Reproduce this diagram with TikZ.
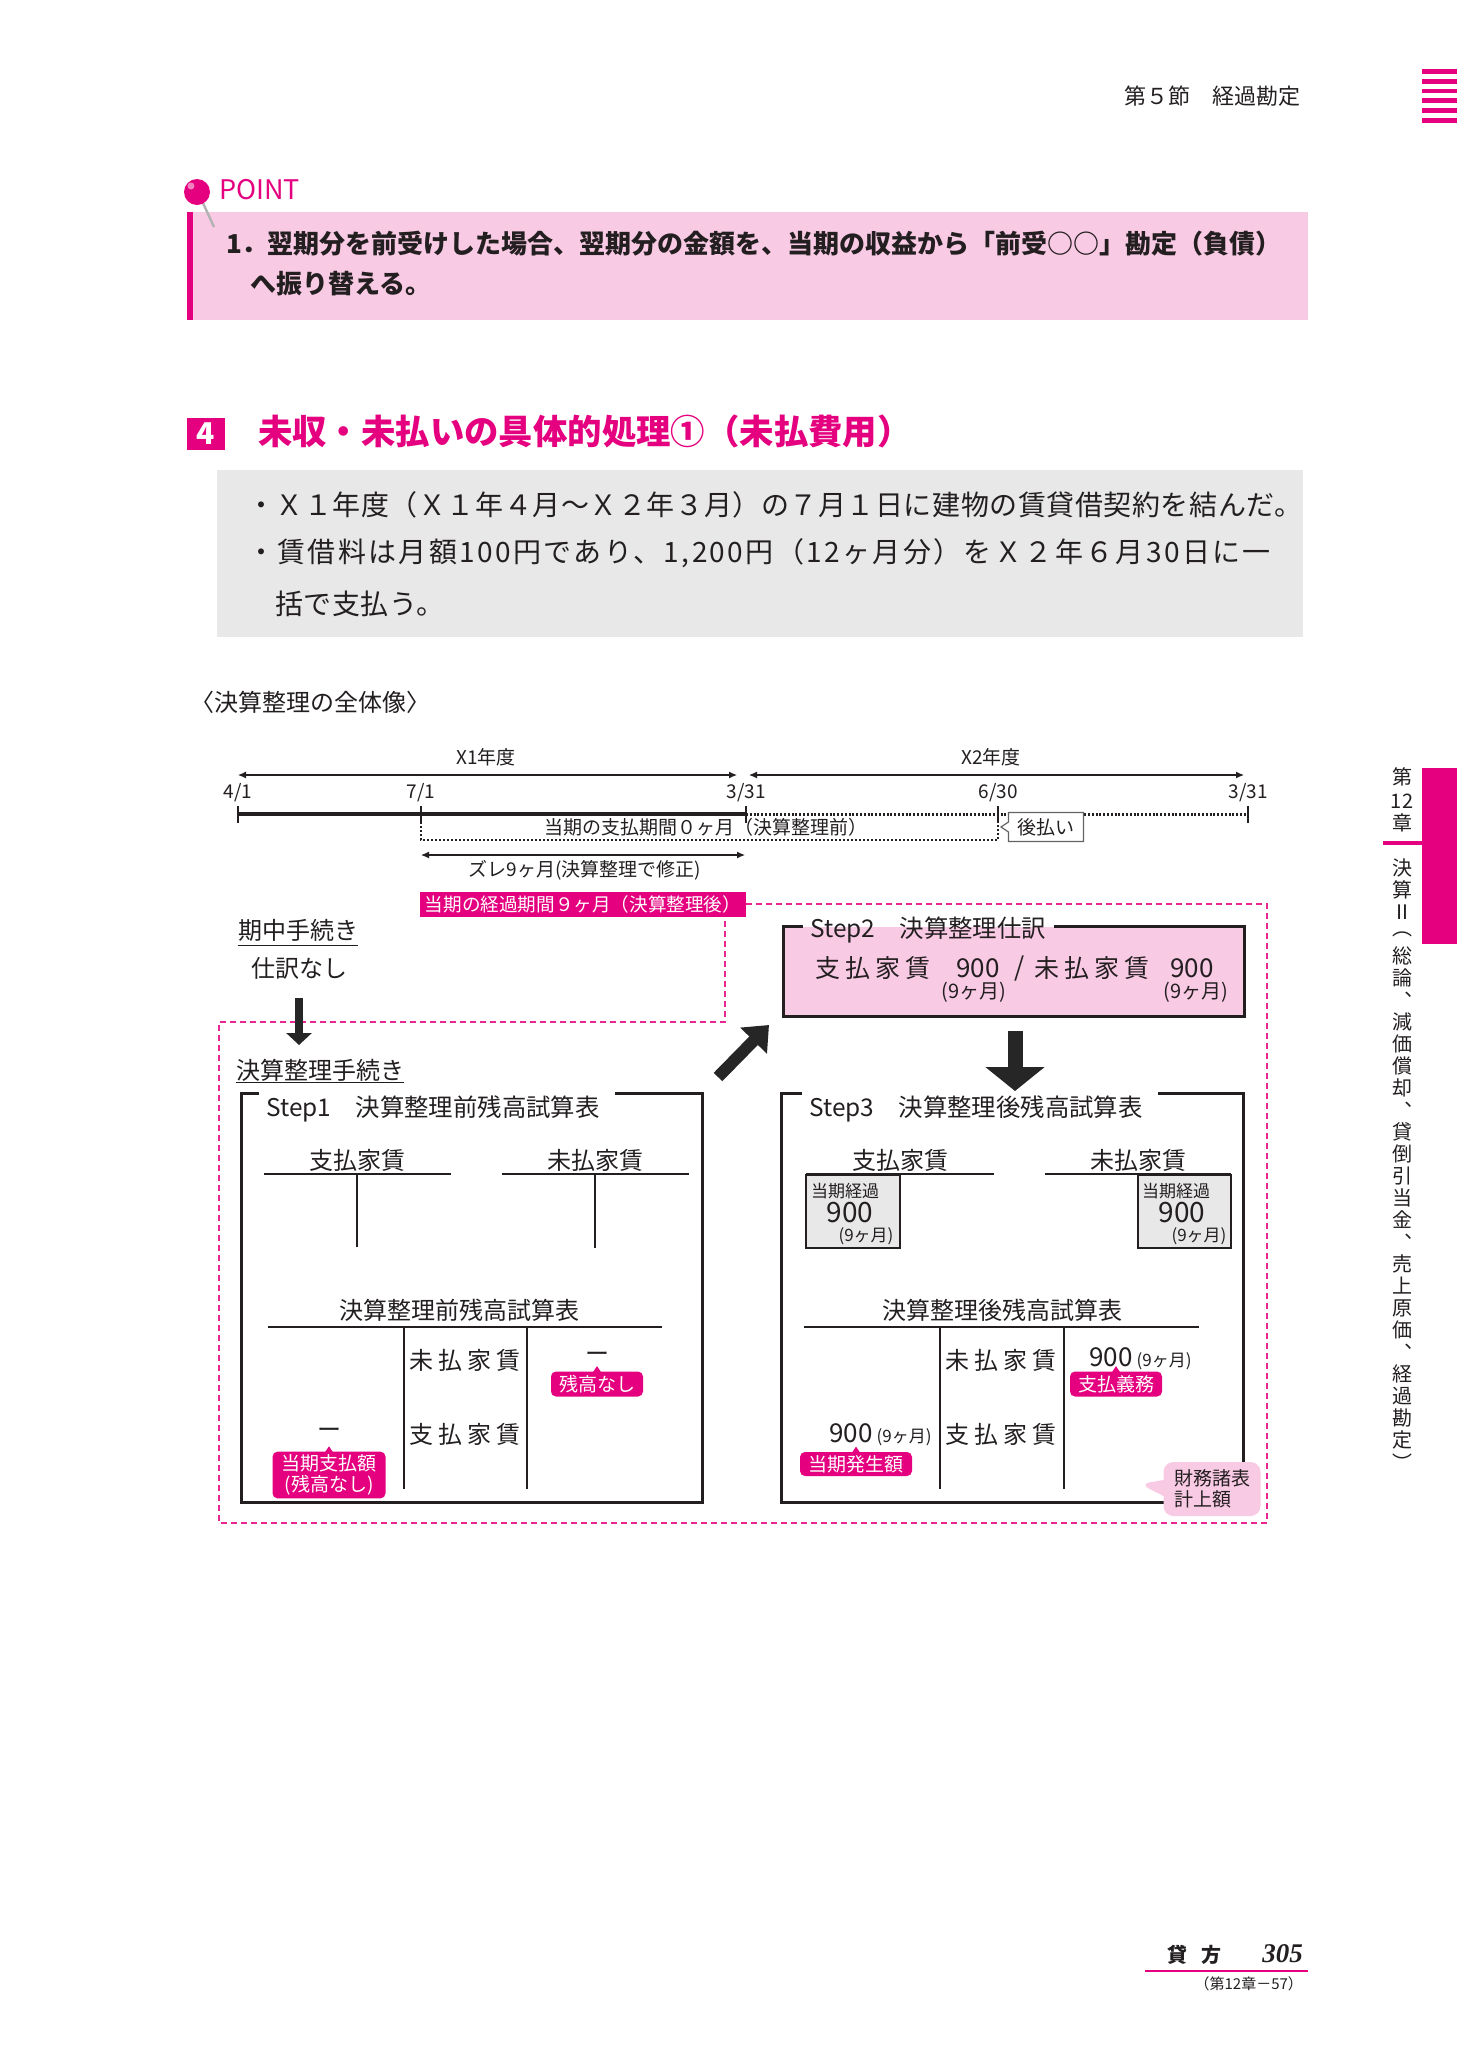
\documentclass[tikz,border=0pt]{standalone}
\usepackage{fontspec}
\setmainfont{Noto Sans CJK JP}
\newfontfamily\folioserif{Liberation Serif}
\newfontfamily\caseloose{Noto Sans CJK JP}[LetterSpace=2]
\newfontfamily\casewide{Noto Sans CJK JP}[LetterSpace=8.5]
\usepackage{tikz}
\usetikzlibrary{arrows.meta,positioning,calc,shapes.callouts}
\definecolor{keymag}{HTML}{E4007F}
\definecolor{keypink}{HTML}{F9CAE4}
\definecolor{panelgray}{HTML}{E8E8E8}
\definecolor{inkgray}{HTML}{231F20}
\newcommand\fsz[2]{\fontsize{#1}{#2}\selectfont}
\newcommand\sg{\hspace{2.4pt}}
\tikzset{
    every node/.style={text=inkgray},
    thin rule/.style={inkgray, line width=0.6pt},
    step frame/.style={inkgray, line width=1.5pt},
    fine dots/.style={inkgray, line width=0.6pt, dash pattern=on 1pt off 1pt},
    bound dash/.style={keymag!85, line width=0.6pt, dash pattern=on 3pt off 2pt},
    span arrow/.style={{Latex[length=4pt,width=3.5pt]}-{Latex[length=4pt,width=3.5pt]}, thin rule},
    small heavy/.style={-{Triangle[length=6pt,width=12.5pt]}, line width=4pt, black!85},
    slant heavy/.style={-{Triangle[length=11pt,width=18pt]}, line width=6pt, black!85},
    down heavy/.style={-{Triangle[length=12pt,width=29pt]}, line width=7.5pt, black!85},
    tag/.style={fill=keymag, text=white, rounded corners=2.5pt, inner xsep=4pt, inner ysep=1.5pt,
        font=\fsz{9.5}{10.5}, align=center},
    small text/.style={font=\fsz{9.5}{11.5}},
    body text/.style={font=\fsz{12}{14}},
    step title/.style={anchor=west, inner xsep=3.5pt, font=\fsz{12.2}{14}},
    tab text/.style={font=\fsz{10}{12}, inner sep=0pt},
}
\newcommand\tagptr[1]{\fill[keymag] ($(#1.north)+(-4,1)$) -- ($(#1.north)+(0,-5)$) -- ($(#1.north)+(4,1)$) -- cycle;}

\begin{document}
\begin{tikzpicture}[x=0.5pt,y=-0.5pt]
    \fill[white] (0,0) rectangle (1457,2067);
    \useasboundingbox (0,0) rectangle (1457,2067);

    % running head
    \node[anchor=east, font=\fsz{11}{13}] (head) at (1308,96) {第５節　経過勘定};
    \foreach \i in {0,...,5} \fill[keymag] (1422,{69.3+9.7*\i}) rectangle ++(35,4.7);

    % point box
    \fill[keypink] (187,212) rectangle (1308,320);
    \fill[keymag] (187,212) rectangle (193,320);
    \draw[gray!60, line width=1.2pt] (203,203) -- (214,227);
    \fill[keymag] (197,192) circle (13);
    \fill[white, opacity=.5] (191,186) circle (3.5);
    \node[anchor=west, text=keymag, font=\fsz{13.5}{15}] (point) at (212,190) {POINT};
    \node[anchor=west, font=\fsz{13}{16}\bfseries] (pt1) at (219,244) {1．翌期分を前受けした場合、翌期分の金額を、当期の収益から「前受○○」勘定（負債）};
    \node[anchor=west, font=\fsz{13}{16}\bfseries] (pt2) at (243,284) {へ振り替える。};

    % section title
    \fill[keymag] (187,418) rectangle (225,450);
    \node[text=white, font=\fsz{15}{18}\bfseries] (secno) at (206,434) {4};
    \node[anchor=west, text=keymag, font=\fsz{17.2}{20}\bfseries] (sectitle) at (251,431) {未収・未払いの具体的処理①（未払費用）};

    % case box
    \fill[panelgray] (217,470) rectangle (1303,637);
    \node[anchor=west, font=\caseloose\fsz{14}{17}] (case1) at (240,505) {・Ｘ１年度（Ｘ１年４月～Ｘ２年３月）の７月１日に建物の賃貸借契約を結んだ。};
    \node[anchor=west, font=\casewide\fsz{14}{17}] (case2) at (240,553) {・賃借料は月額100円であり、1,200円（12ヶ月分）をＸ２年６月30日に一};
    \node[anchor=west, font=\caseloose\fsz{14}{17}] (case3) at (268,604) {括で支払う。};

    \node[anchor=west, body text] (whole) at (183,702) {〈決算整理の全体像〉};

    % time line
    \coordinate (t41) at (238,814);
    \coordinate (t71) at (421,814);
    \coordinate (t331) at (746,814);
    \coordinate (t630) at (998,814);
    \coordinate (t331e) at (1248,814);
    \draw[inkgray, line width=1.6pt] (t41) -- (t331);
    \draw[inkgray, line width=1.5pt, dash pattern=on 1pt off 0.9pt] (t331) -- (t331e);
    \foreach \t in {t41,t71,t331,t630,t331e} \draw[thin rule] ($(\t)+(0,-8)$) -- ($(\t)+(0,9)$);
    \node[small text] (d41) at ($(t41)+(0,-21)$) {4/1};
    \node[small text] (d71) at ($(t71)+(0,-21)$) {7/1};
    \node[small text] (d331) at ($(t331)+(0,-21)$) {3/31};
    \node[small text] (d630) at ($(t630)+(0,-21)$) {6/30};
    \node[small text] (d331e) at ($(t331e)+(0,-21)$) {3/31};

    \coordinate (y1l) at (238,775);
    \coordinate (y1r) at (737,775);
    \coordinate (y2l) at (749,775);
    \coordinate (y2r) at (1244,775);
    \draw[span arrow] (y1l) -- (y1r);
    \draw[span arrow] (y2l) -- (y2r);
    \node[small text] (fy1) at (486,757) {X1年度};
    \node[small text] (fy2) at (991,757) {X2年度};

    \coordinate (b71) at (421,840);
    \coordinate (b630) at (998,840);
    \draw[fine dots] (t71) -- (b71) -- (b630) -- (t630);
    \node[small text] (paid) at (706,827) {当期の支払期間０ヶ月（決算整理前）};
    \coordinate (atoptr) at (1001,827);
    \node[rectangle callout, draw=inkgray!70, fill=white, line width=0.6pt, small text,
        minimum width=37.5pt, minimum height=14.5pt, inner sep=0pt,
        callout absolute pointer={(atoptr)}, callout pointer width=5pt] (atobarai) at (1046,827) {後払い};

    \coordinate (z71) at (421,855);
    \coordinate (z331) at (745,855);
    \draw[span arrow] (z71) -- (z331);
    \node[small text] (zure) at (585,870) {ズレ9ヶ月(決算整理で修正)};

    \node[fill=keymag, text=white, font=\fsz{9.3}{11}, minimum width=163pt, minimum height=12.5pt, inner sep=0pt] (elapsed) at (583,904) {当期の経過期間９ヶ月（決算整理後）};

    % dashed boundary
    \coordinate (bd1) at (1267,904);
    \coordinate (bd2) at (1267,1523);
    \coordinate (bd3) at (219,1523);
    \coordinate (bd4) at (219,1022);
    \coordinate (bd5) at (725,1022);
    \coordinate (bd6) at (725,917);
    \draw[bound dash] (elapsed.east) -- (bd1) -- (bd2) -- (bd3) -- (bd4) -- (bd5) -- (bd6);

    % during the period
    \node[body text, inner sep=0pt] (kichu) at (298,930) {期中手続き};
    \draw[thin rule] ($(kichu.south west)+(0,4)$) -- ($(kichu.south east)+(0,4)$);
    \node[body text] (shiwake) at (299,968) {仕訳なし};
    \node[body text, inner sep=0pt] (kessan) at (320,1070) {決算整理手続き};
    \draw[thin rule] ($(kessan.south west)+(0,1)$) -- ($(kessan.south east)+(0,1)$);
    \draw[small heavy, shorten <=6pt] (shiwake.south) -- (shiwake.south |- 0,1045);

    % step 2
    \node[fill=keypink, minimum width=230pt, minimum height=44.5pt, inner sep=0pt] (s2box) at (1014,971.5) {};
    \node[step title] (s2title) at (803,930) {Step2　決算整理仕訳};
    \draw[step frame] (s2title.west |- s2box.north) -- (s2box.north west) |- (s2box.south east) |- (s2title.east |- s2box.north);
    \node[font=\fsz{12.5}{15}] (s2dr) at (873,968) {支\sg{}払\sg{}家\sg{}賃};
    \node[font=\fsz{13}{15}] (s2amt1) at (978,968) {900};
    \node[font=\fsz{13}{15}] (s2slash) at (1020,968) {/};
    \node[font=\fsz{12.5}{15}] (s2cr) at (1092,968) {未\sg{}払\sg{}家\sg{}賃};
    \node[font=\fsz{13}{15}] (s2amt2) at (1192,968) {900};
    \node[font=\fsz{10}{12}] (s2m1) at (974,992) {(9ヶ月)};
    \node[font=\fsz{10}{12}] (s2m2) at (1196,992) {(9ヶ月)};

    \coordinate (upfrom) at (718,1077);
    \coordinate (upto) at (769,1025);
    \draw[slant heavy] (upfrom) -- (upto);
    \coordinate (s3in) at (1015,1091);
    \draw[down heavy] ($(s2box.south)+(1,15)$) -- (s3in);

    % step 1
    \coordinate (s1nw) at (241,1093);
    \coordinate (s1se) at (702,1502);
    \node[step title] (s1title) at (259,1109) {Step1　決算整理前残高試算表};
    \draw[step frame] (s1title.west |- s1nw) -- (s1nw) |- (s1se) |- ($(s1title.east |- s1nw)+(8,0)$);
    \node[body text] (s1pay) at (357,1160) {支払家賃};
    \draw[thin rule] (264,1174) -- (451,1174) (357,1174) -- (357,1247);
    \node[body text] (s1acc) at (595,1160) {未払家賃};
    \draw[thin rule] (502,1174) -- (689,1174) (595,1174) -- (595,1248);
    \node[body text] (s1tb) at (459,1310) {決算整理前残高試算表};
    \draw[thin rule] (268,1327) -- (662,1327) (404,1327) -- (404,1489) (527,1327) -- (527,1489);
    \node[body text] (s1r1) at (465,1360) {未\sg{}払\sg{}家\sg{}賃};
    \node[body text] (s1r2) at (465,1434) {支\sg{}払\sg{}家\sg{}賃};
    \node[body text] (s1cr) at (597,1357) {ー};
    \node[tag, minimum width=45.5pt, minimum height=12.5pt] (s1tag1) at (597,1384) {残高なし};
    \tagptr{s1tag1}
    \node[body text] (s1dr) at (329,1433) {ー};
    \node[tag, minimum width=56.5pt] (s1tag2) at (329,1475) {当期支払額\\(残高なし)};
    \tagptr{s1tag2}

    % step 3
    \coordinate (s3nw) at (781,1093);
    \coordinate (s3se) at (1243,1502);
    \node[step title] (s3title) at (802,1109) {Step3　決算整理後残高試算表};
    \draw[step frame] (s3title.west |- s3nw) -- (s3nw) |- (s3se) |- ($(s3title.east |- s3nw)+(8,0)$);
    \node[body text] (s3pay) at (900,1160) {支払家賃};
    \draw[thin rule] (806,1174) -- (994,1174);
    \node[body text] (s3acc) at (1138,1160) {未払家賃};
    \draw[thin rule] (1045,1174) -- (1231,1174);
    \draw[thin rule, fill=panelgray] (806,1175) rectangle (900,1248);
    \draw[thin rule, fill=panelgray] (1138,1175) rectangle (1231,1248);
    \node[font=\fsz{8.5}{9}] (g1a) at (845,1191) {当期経過};
    \node[font=\fsz{14}{15}] (g1b) at (850,1213) {900};
    \node[font=\fsz{8.5}{9}] (g1c) at (866,1236) {(9ヶ月)};
    \node[font=\fsz{8.5}{9}] (g2a) at (1176,1191) {当期経過};
    \node[font=\fsz{14}{15}] (g2b) at (1182,1213) {900};
    \node[font=\fsz{8.5}{9}] (g2c) at (1199,1236) {(9ヶ月)};
    \node[body text] (s3tb) at (1002,1310) {決算整理後残高試算表};
    \draw[thin rule] (804,1327) -- (1199,1327) (940,1327) -- (940,1489) (1064,1327) -- (1064,1489);
    \node[body text] (s3r1) at (1001,1360) {未\sg{}払\sg{}家\sg{}賃};
    \node[body text] (s3r2) at (1001,1434) {支\sg{}払\sg{}家\sg{}賃};
    \node[anchor=west, inner sep=0pt] (s3cr) at (1089,1359) {\fsz{13}{15}900\hspace{2pt}\fsz{8.5}{10}(9ヶ月)};
    \node[tag, minimum width=45.5pt, minimum height=12.5pt] (s3tag1) at (1116,1384) {支払義務};
    \tagptr{s3tag1}
    \node[anchor=east, inner sep=0pt] (s3dr) at (932,1435) {\fsz{13}{15}900\hspace{2pt}\fsz{8.5}{10}(9ヶ月)};
    \node[tag, minimum width=56pt, minimum height=12pt] (s3tag2) at (856,1464) {当期発生額};
    \tagptr{s3tag2}
    \coordinate (zaimuptr) at (1140,1484);
    \node[rectangle callout, fill=keypink, rounded corners=5pt, minimum width=48.5pt, minimum height=27pt,
        inner sep=2pt, align=left, font=\fsz{9.5}{10.5},
        callout absolute pointer={(zaimuptr)}, callout pointer width=8pt] (zaimu) at (1212,1489) {財務諸表\\計上額};

    % chapter tab
    \fill[keymag] (1422,768) rectangle (1457,944);
    \node[tab text] (tab1) at (1402,777) {第};
    \node[tab text] (tab2) at (1402,801) {12};
    \node[tab text] (tab3) at (1402,823) {章};
    \draw[keymag, line width=1.75pt] (1383,843) -- (1422,843);
    \foreach \c [count=\i from 0] in {決,算,Ⅱ,︵,総,論,︑,減,価,償,却,︑,貸,倒,引,当,金,︑,売,上,原,価,︑,経,過,勘,定,︶}
        \node[tab text] at (1402,{868+22*\i}) {\c};

    % folio
    \node[font=\fsz{10}{12}\bfseries] (kashi) at (1194,1955) {貸\hspace{7pt}方};
    \node[anchor=east, font=\folioserif\bfseries\itshape\fsz{13.5}{15}] (folio) at (1310,1954) {305};
    \draw[keymag, line width=0.6pt] (1145,1971) -- (1308,1971);
    \node[anchor=east, font=\fsz{7.5}{9}] (subfolio) at (1310,1984) {（第12章－57）};
\end{tikzpicture}
\end{document}
